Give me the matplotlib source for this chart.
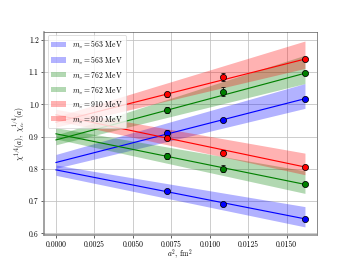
import matplotlib
matplotlib.use("Agg")
import matplotlib.pyplot as plt

plt.rcParams['font.family'] = 'serif'
plt.rcParams['font.serif'] = ['cmr10']
plt.rcParams['mathtext.fontset'] = 'cm'
plt.rcParams['axes.formatter.use_mathtext'] = True

# lattice spacings squared (fm^2)
a2 = [0.00725, 0.01088, 0.01619]
fit_x = [0.0, 0.01619]

masses = ['563', '762', '910']
colors = ['blue', 'green', 'red']

# chi^{1/4}: decreasing set
chi = [[0.733, 0.690, 0.645],
       [0.840, 0.801, 0.752],
       [0.896, 0.850, 0.806]]
chi_err = [[0.005, 0.005, 0.005],
           [0.008, 0.011, 0.006],
           [0.006, 0.008, 0.006]]
chi_fit = [[0.797, 0.645],
           [0.909, 0.752],
           [0.968, 0.806]]
chi_lo = [[0.780, 0.620],
          [0.893, 0.724],
          [0.950, 0.782]]
chi_hi = [[0.812, 0.683],
          [0.928, 0.794],
          [0.985, 0.849]]

# chi_te^{1/4}: increasing set
chite = [[0.910, 0.952, 1.018],
         [0.983, 1.040, 1.097],
         [1.032, 1.085, 1.141]]
chite_err = [[0.010, 0.005, 0.006],
             [0.010, 0.013, 0.006],
             [0.008, 0.012, 0.007]]
chite_fit = [[0.820, 1.018],
             [0.890, 1.097],
             [0.945, 1.141]]
chite_lo = [[0.802, 0.988],
            [0.875, 1.065],
            [0.930, 1.112]]
chite_hi = [[0.845, 1.065],
            [0.905, 1.153],
            [0.962, 1.197]]

fig, ax = plt.subplots(figsize=(6.4, 4.8), dpi=55)

for i in range(3):
    c = colors[i]
    lab = r'$m_\pi = %s$ MeV' % masses[i]
    ax.fill_between(fit_x, chite_lo[i], chite_hi[i], color=c, alpha=0.3,
                    lw=0, label=lab)
    ax.fill_between(fit_x, chi_lo[i], chi_hi[i], color=c, alpha=0.3,
                    lw=0, label=lab)

for i in range(3):
    c = colors[i]
    ax.plot(fit_x, chite_fit[i], color=c, lw=1.5)
    ax.plot(fit_x, chi_fit[i], color=c, lw=1.5)
    ax.errorbar(a2, chite[i], yerr=chite_err[i], fmt='o', color=c, mec='k',
                ms=8, ecolor='k', capsize=3, elinewidth=1, zorder=5)
    ax.errorbar(a2, chi[i], yerr=chi_err[i], fmt='o', color=c, mec='k',
                ms=8, ecolor='k', capsize=3, elinewidth=1, zorder=5)

ax.set_xlim(-0.00078, 0.01696)
ax.set_ylim(0.595, 1.226)
ax.set_xticks([0.0, 0.0025, 0.005, 0.0075, 0.01, 0.0125, 0.015])
ax.set_xticklabels(['0.0000', '0.0025', '0.0050', '0.0075', '0.0100',
                    '0.0125', '0.0150'])
ax.set_yticks([0.6, 0.7, 0.8, 0.9, 1.0, 1.1, 1.2])
ax.set_yticklabels(['0.6', '0.7', '0.8', '0.9', '1.0', '1.1', '1.2'])
ax.grid(True, color='#c0c0c0', lw=1)
ax.set_axisbelow(True)

for s in ['left', 'bottom']:
    ax.spines[s].set_color('#888888')
    ax.spines[s].set_linewidth(2)
for s in ['top', 'right']:
    ax.spines[s].set_color('#444444')

ax.set_xlabel(r'$a^2$, fm$^2$', labelpad=-1)
ax.set_ylabel(r'$\chi^{1/4}(a),\ \chi_{te}^{1/4}(a)$', labelpad=2)
ax.legend(loc='upper left', fontsize=10)

fig.savefig('out.png', dpi=55)
